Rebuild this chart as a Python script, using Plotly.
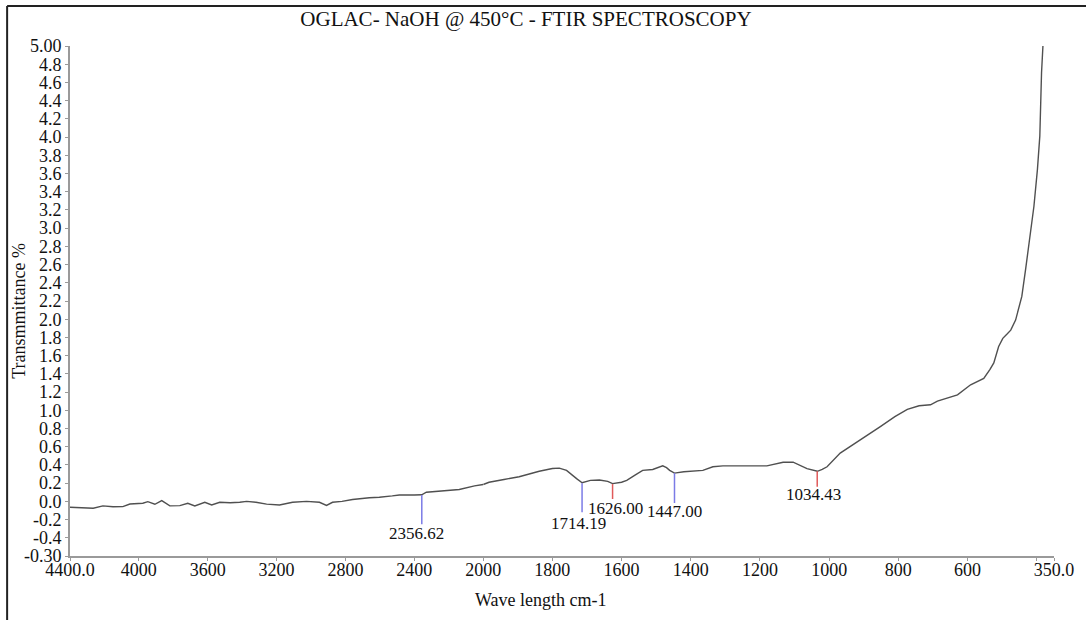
import plotly.graph_objects as go

# ---- data ----
wavenumber = [4400, 4330, 4265, 4209, 4150, 4093, 4052, 3977, 3948, 3907, 3867, 3820, 3762, 3716,
              3675, 3617, 3577, 3530, 3470, 3414, 3374, 3320, 3258, 3183, 3107, 3026, 2951, 2910,
              2875, 2820, 2759, 2661, 2603, 2528, 2487, 2400, 2357, 2330, 2250, 2139, 2050, 2000,
              1983, 1940, 1896, 1838, 1800, 1780, 1759, 1730, 1714, 1690, 1664, 1640, 1626, 1600,
              1585, 1560, 1539, 1510, 1481, 1470, 1461, 1447, 1420, 1365, 1336, 1307, 1240, 1180,
              1133, 1104, 1064, 1034, 1020, 1006, 968, 948, 910, 890, 852, 810, 774, 740, 707, 687,
              660, 629, 591, 553, 535, 524, 510, 498, 485, 475, 461, 446, 443, 432, 417, 408, 398,
              391, 386, 382]
transmittance = [-0.065, -0.07, -0.076, -0.05, -0.06, -0.058, -0.029, -0.021, -0.003, -0.032, 0.008,
                 -0.05, -0.047, -0.021, -0.05, -0.01, -0.04, -0.01, -0.015, -0.01, 0.0, -0.01, -0.03,
                 -0.04, -0.01, 0.0, -0.01, -0.045, -0.01, 0.0, 0.02, 0.04, 0.045, 0.06, 0.07, 0.07,
                 0.072, 0.10, 0.11, 0.13, 0.17, 0.185, 0.21, 0.24, 0.27, 0.33, 0.36, 0.365, 0.34, 0.25,
                 0.205, 0.23, 0.235, 0.22, 0.195, 0.21, 0.23, 0.29, 0.34, 0.35, 0.39, 0.37, 0.34, 0.31,
                 0.325, 0.34, 0.38, 0.39, 0.39, 0.39, 0.43, 0.43, 0.36, 0.33, 0.35, 0.38, 0.53, 0.58,
                 0.675, 0.72, 0.82, 0.93, 1.01, 1.05, 1.06, 1.10, 1.13, 1.17, 1.28, 1.35, 1.45, 1.52,
                 1.70, 1.79, 1.84, 1.88, 1.99, 2.21, 2.25, 2.55, 2.95, 3.24, 3.64, 4.01, 4.71, 5.0]

peak_wn = [2356.62, 1714.19, 1626.00, 1447.00, 1034.43]
peak_labels = ["2356.62", "1714.19", "1626.00", "1447.00", "1034.43"]
peak_top = [0.07, 0.20, 0.19, 0.31, 0.33]
peak_bottom = [-0.25, -0.12, 0.026, -0.018, 0.16]
peak_label_y = [-0.357, -0.238, -0.073, -0.106, 0.07]
peak_kind = ["blue", "blue", "red", "blue", "red"]

x_ticks_left = [4400, 4000, 3600, 3200, 2800, 2400]
x_ticktext_left = ["4400.0", "4000", "3600", "3200", "2800", "2400"]
x_ticks_right = [2000, 1800, 1600, 1400, 1200, 1000, 800, 600, 400, 350]
x_ticktext_right = ["2000", "1800", "1600", "1400", "1200", "1000", "800", "600", "", "350.0"]

y_ticks = [-0.6, -0.4, -0.2, 0.0, 0.2, 0.4, 0.6, 0.8, 1.0, 1.2, 1.4, 1.6, 1.8, 2.0, 2.2, 2.4, 2.6,
           2.8, 3.0, 3.2, 3.4, 3.6, 3.8, 4.0, 4.2, 4.4, 4.6, 4.8, 5.0]
y_ticktext = ["-0.30", "-0.4", "-0.2", "0.0", "0.2", "0.4", "0.6", "0.8", "1.0", "1.2", "1.4", "1.6",
              "1.8", "2.0", "2.2", "2.4", "2.6", "2.8", "3.0", "3.2", "3.4", "3.6", "3.8", "4.0",
              "4.2", "4.4", "4.6", "4.8", "5.00"]

BREAK = 2000
SPLIT = 0.4199
FONT = "Liberation Serif, Times New Roman, serif"
LINE_COLOR = "#505050"
AXIS_COLOR = "#9a9a9a"
KIND_COLOR = {"blue": "#7b7be6", "red": "#e05a5a"}

left = [(w, t) for w, t in zip(wavenumber, transmittance) if w >= BREAK]
right = [(w, t) for w, t in zip(wavenumber, transmittance) if w <= BREAK]

fig = go.Figure()
fig.add_trace(go.Scatter(x=[p[0] for p in left], y=[p[1] for p in left], mode="lines",
                         line=dict(color=LINE_COLOR, width=1.4), xaxis="x", yaxis="y",
                         showlegend=False, hoverinfo="skip"))
fig.add_trace(go.Scatter(x=[p[0] for p in right], y=[p[1] for p in right], mode="lines",
                         line=dict(color=LINE_COLOR, width=1.4), xaxis="x2", yaxis="y",
                         showlegend=False, hoverinfo="skip"))

label_shift = [-5, -4, 3, 0, -4]
for wn, lab, top, bot, ly, kind, sh in zip(peak_wn, peak_labels, peak_top, peak_bottom,
                                           peak_label_y, peak_kind, label_shift):
    xr = "x" if wn >= BREAK else "x2"
    fig.add_shape(type="line", xref=xr, yref="y", x0=wn, x1=wn, y0=top, y1=bot,
                  line=dict(color=KIND_COLOR[kind], width=1.5))
    fig.add_annotation(x=wn, y=ly, xref=xr, yref="y", text=lab, showarrow=False,
                       xanchor="center", yanchor="middle", xshift=sh,
                       font=dict(family=FONT, size=17, color="#111"))

axis_common = dict(showline=True, linecolor=AXIS_COLOR, linewidth=2, ticks="outside", ticklen=3,
                   tickcolor=AXIS_COLOR, tickwidth=1, showgrid=False, zeroline=False,
                   tickfont=dict(family=FONT, size=18, color="#111"))

fig.update_layout(
    width=1086, height=620,
    margin=dict(l=70, r=30, t=46, b=64),
    paper_bgcolor="white", plot_bgcolor="white",
    title=dict(text="OGLAC- NaOH @ 450°C - FTIR SPECTROSCOPY", x=0.4843, xanchor="center",
               xref="container", y=1 - 19 / 620, yanchor="middle",
               font=dict(family=FONT, size=21, color="#111")),
    xaxis=dict(domain=[0, SPLIT], range=[4400, BREAK], tickvals=x_ticks_left,
               ticktext=x_ticktext_left, anchor="y", ticklabelstandoff=-7, **axis_common),
    xaxis2=dict(domain=[SPLIT, 1], range=[BREAK, 350], tickvals=x_ticks_right,
                ticktext=x_ticktext_right, anchor="y", ticklabelstandoff=-7, **axis_common),
    yaxis=dict(range=[-0.6, 5.0], tickvals=y_ticks, ticktext=y_ticktext, anchor="x",
               **axis_common),
)

fig.add_annotation(text="Transmmittance %", xref="paper", yref="paper", x=-0.0512, y=0.48,
                   textangle=-90, showarrow=False, xanchor="center", yanchor="middle",
                   font=dict(family=FONT, size=18, color="#111"))
fig.add_annotation(text="Wave length cm-1", xref="paper", yref="paper", x=0.4787, y=-0.0863,
                   showarrow=False, xanchor="center", yanchor="middle",
                   font=dict(family=FONT, size=18, color="#111"))

# frame of the original figure (left and top edges)
fig.add_shape(type="line", xref="paper", yref="paper", x0=-0.0639, x1=-0.0639, y0=1.0784,
              y1=-0.13, line=dict(color="#222", width=2))
fig.add_shape(type="line", xref="paper", yref="paper", x0=-0.0639, x1=1.04, y0=1.0784,
              y1=1.0784, line=dict(color="#222", width=2))

fig.write_html("out.html")
